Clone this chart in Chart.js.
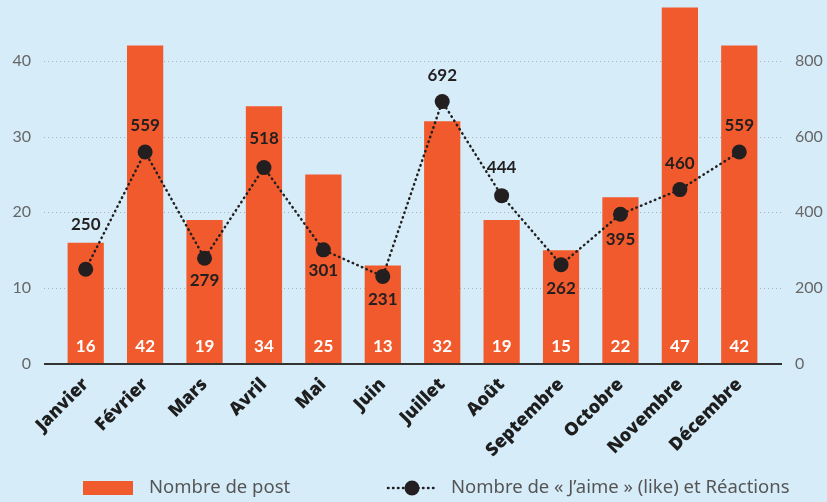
<!DOCTYPE html>
<html>
<head>
<meta charset="utf-8">
<script src="https://cdn.jsdelivr.net/npm/chart.js@4"></script>
<style>
  html, body { margin: 0; padding: 0; background: #d6edf9; }
  #wrap { width: 827px; height: 502px; position: relative; }
</style>
</head>
<body>
<div id="wrap"><canvas id="postChart"></canvas></div>
<script>
// Data
const months = ['Janvier', 'Février', 'Mars', 'Avril', 'Mai', 'Juin',
    'Juillet', 'Août', 'Septembre', 'Octobre', 'Novembre', 'Décembre'];
const posts = [16, 42, 19, 34, 25, 13, 32, 19, 15, 22, 47, 42];
const likes = [250, 559, 279, 518, 301, 231, 692, 444, 262, 395, 460, 559];
const leftTicks = [0, 10, 20, 30, 40];
const rightTicks = [0, 200, 400, 600, 800];

const ORANGE = '#f15a2c';
const DARK = '#231f20';
const NUM_FONT = 'Lato, "Noto Sans", sans-serif';
// vertical offset of each like-label from its point (negative = above)
const likeLabelOffset = [-45, -27, 22, -29, 21, 23, -26, -28, 24, 25, -26, -27];

// Dotted grid lines, baseline, value labels and legend
const decorPlugin = {
    id: 'decor',
    beforeDatasetsDraw(chart) {
        const { ctx, chartArea } = chart;
        const y = chart.scales.y;
        ctx.save();
        ctx.strokeStyle = '#a9b4ba';
        ctx.lineWidth = 1;
        ctx.setLineDash([1, 3]);
        leftTicks.slice(1).forEach(v => {
            const py = Math.round(y.getPixelForValue(v)) + 0.5;
            ctx.beginPath();
            ctx.moveTo(chartArea.left - 12, py);
            ctx.lineTo(chartArea.right + 15, py);
            ctx.stroke();
        });
        ctx.restore();
    },
    afterDatasetsDraw(chart) {
        const { ctx, chartArea } = chart;
        const y = chart.scales.y;
        const base = y.getPixelForValue(0);
        ctx.save();
        // baseline
        ctx.strokeStyle = '#333';
        ctx.lineWidth = 2;
        ctx.beginPath();
        ctx.moveTo(chartArea.left - 12, base);
        ctx.lineTo(chartArea.right + 13, base);
        ctx.stroke();

        // white numbers inside bars
        ctx.fillStyle = '#fff';
        ctx.font = 'bold 17px ' + NUM_FONT;
        ctx.textAlign = 'center';
        ctx.textBaseline = 'middle';
        chart.getDatasetMeta(0).data.forEach((bar, i) => {
            ctx.fillText(posts[i], bar.x, base - 17);
        });

        // labels around line points
        ctx.fillStyle = DARK;
        chart.getDatasetMeta(1).data.forEach((pt, i) => {
            ctx.fillText(likes[i], pt.x, pt.y + likeLabelOffset[i]);
        });

        // legend
        const ly = 488;
        ctx.fillStyle = ORANGE;
        ctx.fillRect(83, ly - 7, 50, 14);
        ctx.fillStyle = '#555';
        ctx.font = '18.5px "Noto Sans", sans-serif';
        ctx.textAlign = 'left';
        ctx.fillText(chart.data.datasets[0].label, 149, ly);

        ctx.strokeStyle = DARK;
        ctx.lineWidth = 2.5;
        ctx.lineCap = 'round';
        ctx.setLineDash([0.5, 4.5]);
        ctx.beginPath();
        ctx.moveTo(388, ly);
        ctx.lineTo(437, ly);
        ctx.stroke();
        ctx.setLineDash([]);
        ctx.fillStyle = DARK;
        ctx.beginPath();
        ctx.arc(412, ly, 7.5, 0, 2 * Math.PI);
        ctx.fill();
        ctx.fillStyle = '#555';
        ctx.fillText(chart.data.datasets[1].label, 451, ly);
        ctx.restore();
    }
};

new Chart(document.getElementById('postChart'), {
    data: {
        labels: months,
        datasets: [{
            type: 'bar',
            label: 'Nombre de post',
            data: posts,
            yAxisID: 'y',
            backgroundColor: ORANGE,
            barPercentage: 0.61,
            categoryPercentage: 1,
            order: 1
        }, {
            type: 'line',
            label: 'Nombre de « J’aime » (like) et Réactions',
            data: likes,
            yAxisID: 'y2',
            borderColor: DARK,
            borderWidth: 2.5,
            borderDash: [0.5, 4.5],
            borderCapStyle: 'round',
            pointRadius: 7.5,
            pointBackgroundColor: DARK,
            pointBorderWidth: 0,
            tension: 0,
            fill: false,
            order: 0
        }]
    },
    options: {
        responsive: true,
        maintainAspectRatio: false,
        animation: false,
        layout: { autoPadding: false, padding: 0 },
        plugins: {
            legend: { display: false },
            tooltip: { enabled: false }
        },
        scales: {
            x: {
                grid: { display: false },
                border: { display: false },
                ticks: {
                    minRotation: 45,
                    maxRotation: 45,
                    padding: 2,
                    color: '#1e1e1e',
                    font: { family: '"Open Sans", sans-serif', size: 18, weight: 800 }
                },
                afterFit(scale) {
                    scale.height = 138;
                    scale.paddingLeft = 0;
                    scale.paddingRight = 0;
                }
            },
            y: {
                position: 'left',
                min: 0,
                max: 48,
                grid: { display: false, drawTicks: false },
                border: { display: false },
                afterBuildTicks(scale) { scale.ticks = leftTicks.map(v => ({ value: v })); },
                ticks: {
                    padding: 25,
                    color: '#666',
                    font: { family: NUM_FONT, size: 16 }
                },
                afterFit(scale) {
                    scale.width = 56;
                    scale.paddingTop = 0;
                    scale.paddingBottom = 0;
                }
            },
            y2: {
                position: 'right',
                min: 0,
                max: 960,
                grid: { display: false, drawTicks: false },
                border: { display: false },
                afterBuildTicks(scale) { scale.ticks = rightTicks.map(v => ({ value: v })); },
                ticks: {
                    padding: 26,
                    color: '#666',
                    font: { family: NUM_FONT, size: 16 }
                },
                afterFit(scale) {
                    scale.width = 58;
                    scale.paddingTop = 0;
                    scale.paddingBottom = 0;
                }
            }
        }
    },
    plugins: [decorPlugin]
});
</script>
</body>
</html>
